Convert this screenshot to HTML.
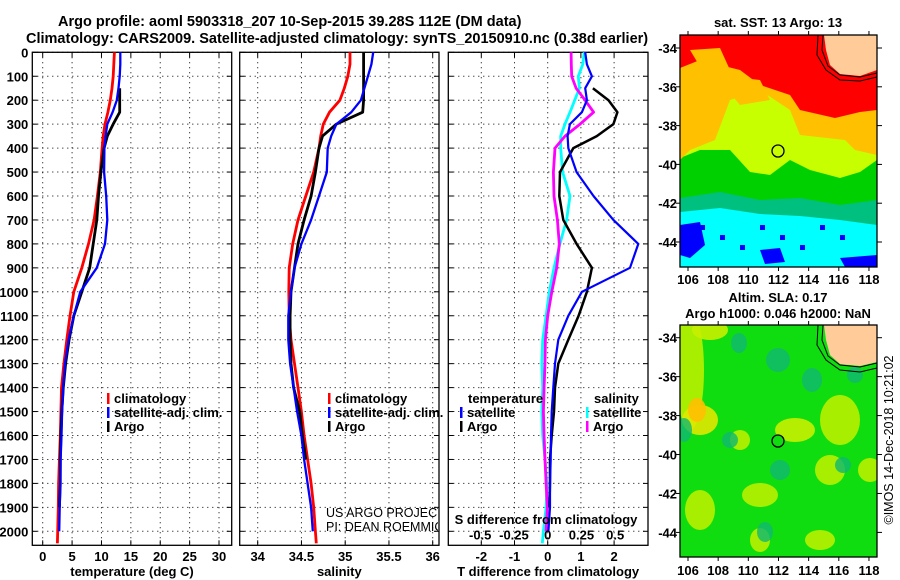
<!DOCTYPE html>
<html><head><meta charset="utf-8"><style>
html,body{margin:0;padding:0;background:#fff;}
svg{display:block;font-family:"Liberation Sans",Arial,sans-serif;}
.t{font-weight:bold;font-size:13px;fill:#000;}
.ttl{font-weight:bold;font-size:14.5px;fill:#000;}
</style></head><body>
<svg id="c" width="900" height="580" viewBox="0 0 900 580" xmlns="http://www.w3.org/2000/svg">
<text class="ttl" x="58" y="26">Argo profile: aoml 5903318_207 10-Sep-2015 39.28S 112E (DM data)</text>
<text class="ttl" x="26" y="43">Climatology: CARS2009. Satellite-adjusted climatology: synTS_20150910.nc (0.38d earlier)</text>
<g id="p1"></g>
<g id="p2"></g>
<g id="p3"></g>
<g id="m1"></g>
<g id="m2"></g>
</svg>
<script>
const depths=[0,50,100,150,200,250,300,350,400,500,600,700,800,900,1000,1100,1200,1300,1400,1500,1600,1700,1800,1900,2000,2050];
const tempClim=[12.2,12.1,12.0,11.8,11.5,11.1,10.6,10.3,10.1,9.8,9.3,8.75,7.8,6.65,5.3,4.65,4.1,3.6,3.2,3.1,3.0,2.85,2.7,2.65,2.55,2.5];
const tempSat=[13.2,13.2,13.1,12.9,12.6,11.9,11.0,10.7,10.5,10.45,10.8,11.0,10.6,9.2,6.4,5.3,4.4,3.8,3.5,3.3,3.2,3.05,3.0,2.9,2.8,null];
const tempArgo=[null,null,null,13.1,13.1,13.1,12.0,11.0,10.45,9.9,9.5,9.2,8.6,8.0,6.65,5.3,4.5,3.9,3.5,3.25,3.1,3.0,3.0,2.85,null,null];
const salClim=[35.055,35.055,35.03,34.99,34.94,34.82,34.75,34.72,34.70,34.64,34.55,34.46,34.40,34.36,34.355,34.36,34.38,34.42,34.46,34.50,34.53,34.57,34.61,34.64,34.66,34.67];
const salSat=[35.32,35.30,35.26,35.22,35.18,35.07,34.90,34.84,34.80,34.79,34.70,34.61,34.50,34.42,34.38,34.35,34.35,34.37,34.41,34.45,34.50,34.53,34.57,34.61,34.63,null];
const salArgo=[35.21,35.21,35.21,35.21,35.21,35.2,34.90,34.74,34.70,34.66,34.61,34.53,34.46,34.42,34.38,34.37,34.37,34.38,34.41,34.48,34.51,34.55,null,null,null,null];
const dTSat=[1.13,1.18,1.33,1.13,1.18,1.03,0.67,0.6,0.62,0.87,1.38,1.98,2.73,2.48,1.03,0.62,0.32,0.22,0.17,0.12,0.10,0.09,0.07,0.07,0.02,null];
const dTArgo=[null,null,null,1.36,1.83,2.1,1.98,1.48,0.77,0.37,0.35,0.47,0.87,1.33,1.18,0.93,0.62,0.32,0.22,0.19,0.12,0.07,0.07,0.05,null,null];
const dSArgo=[0.173,0.175,0.178,0.21,0.277,0.34,0.24,0.128,0.054,0.042,0.047,0.072,0.086,0.067,0.03,0,-0.017,-0.02,-0.027,-0.032,-0.027,-0.02,-0.012,-0.002,-0.012,null];
const dSSat=[0.27,0.26,0.227,0.235,0.2,0.165,0.128,0.096,0.096,0.11,0.165,0.14,0.09,0.047,0.012,-0.012,-0.037,-0.044,-0.037,-0.044,-0.037,-0.02,-0.007,-0.012,-0.032,-0.04];
const depthTicks=[0,100,200,300,400,500,600,700,800,900,1000,1100,1200,1300,1400,1500,1600,1700,1800,1900,2000];
const tempTicks=[0,5,10,15,20,25,30];
const salTicks=[34,34.5,35,35.5,36];
const dTTicks=[-2,-1,0,1,2];
const dSTicks=[-0.5,-0.25,0,0.25,0.5];
const latTicks=[-34,-36,-38,-40,-42,-44];
const lonTicks=[106,108,110,112,114,116,118];

const NS="http://www.w3.org/2000/svg";
function mk(tag,parent,attrs){const e=document.createElementNS(NS,tag);for(const k in attrs)e.setAttribute(k,attrs[k]);parent.appendChild(e);return e;}
const TOP=52.3,BOT=545.3;
const yD=d=>52.3+d*0.2395;

function frame(g,x0,x1,xs,ticks,labels,xlabel,leftLabels){
  mk('rect',g,{x:x0,y:TOP,width:x1-x0,height:BOT-TOP,fill:'#fff',stroke:'#000','stroke-width':1.3});
  depthTicks.forEach(d=>{
    const y=yD(d);
    const l=mk('line',g,{x1:x0,x2:x1,y1:y,y2:y,stroke:'#000','stroke-width':1,'stroke-dasharray':'1 4'});
    
    
    mk('line',g,{x1:x0,x2:x0+5,y1:y,y2:y,stroke:'#000'});
    mk('line',g,{x1:x1-5,x2:x1,y1:y,y2:y,stroke:'#000'});
    if(leftLabels){const t=mk('text',g,{x:x0-4,y:y+5,class:'t','text-anchor':'end'});t.textContent=d;
      
      }
  });
  ticks.forEach((v,i)=>{
    const x=xs(v);
    mk('line',g,{x1:x,x2:x,y1:TOP,y2:BOT,stroke:'#000','stroke-width':1,'stroke-dasharray':'1 4'});
    mk('line',g,{x1:x,x2:x,y1:TOP,y2:TOP+5,stroke:'#000'});
    mk('line',g,{x1:x,x2:x,y1:BOT-5,y2:BOT,stroke:'#000'});
    if(labels){const t=mk('text',g,{x:x,y:561,class:'t','text-anchor':'middle'});t.textContent=labels[i];
      
      }
  });
  const t=mk('text',g,{x:(x0+x1)/2,y:576,class:'t','text-anchor':'middle'});t.textContent=xlabel;
  
  
}
function line(g,xs,vals,color,w,name){
  let pts=[],segs=[];
  vals.forEach((v,i)=>{if(v===null){if(pts.length)segs.push(pts);pts=[];}else pts.push(xs(v).toFixed(1)+','+yD(depths[i]).toFixed(1));});
  if(pts.length)segs.push(pts);
  segs.forEach(s=>{const p=mk('polyline',g,{points:s.join(' '),fill:'none',stroke:color,'stroke-width':w,'stroke-linejoin':'round'});
    
    });
}
function legend(g,x,y,items){
  items.forEach((it,i)=>{
    mk('rect',g,{x:x,y:y+i*14-10,width:2.5,height:11,fill:it[0]});
    const t=mk('text',g,{x:x+7,y:y+i*14,class:'t'});t.textContent=it[1];
    
    
  });
}
// Panel 1
const g1=document.getElementById('p1');
const xT=v=>42.7+v*5.877;
frame(g1,32.3,231.7,xT,tempTicks,tempTicks,'temperature (deg C)',true);
line(g1,xT,tempClim,'#ff0000',2.8,'temp-climatology-line');
line(g1,xT,tempArgo,'#000',2.8,'temp-argo-line');
line(g1,xT,tempSat,'#0000ff',2.3,'temp-satellite-line');
legend(g1,107,403,[['#f00','climatology'],['#00f','satellite-adj. clim.'],['#000','Argo']]);
// Panel 2
const g2=document.getElementById('p2');
const xS=v=>257.7+(v-34)*87.5;
frame(g2,239.7,439,xS,salTicks,['34','34.5','35','35.5','36'],'salinity',false);
line(g2,xS,salClim,'#ff0000',2.8,'sal-climatology-line');
line(g2,xS,salArgo,'#000',2.8,'sal-argo-line');
line(g2,xS,salSat,'#0000ff',2.3,'sal-satellite-line');
legend(g2,328,403,[['#f00','climatology'],['#00f','satellite-adj. clim.'],['#000','Argo']]);
mk('clipPath',g2,{id:'cp2'});
mk('rect',document.getElementById('cp2'),{x:239,y:52,width:199,height:493});
const cr=mk('g',g2,{'clip-path':'url(#cp2)'});
[['US ARGO PROJECT',517],['PI: DEAN ROEMMICH',531]].forEach(a=>{const t=mk('text',cr,{x:326,y:a[1],'font-size':12.5,fill:'#000'});t.textContent=a[0];
  
  });
// Panel 3
const g3=document.getElementById('p3');
const xdT=v=>547.7+v*33.2;
const xdS=v=>547.7+v*135;
frame(g3,448.3,648,xdT,dTTicks,dTTicks,'T difference from climatology',false);
line(g3,xdS,dSSat,'#00ffff',2.8,'sal-diff-satellite-line');
line(g3,xdS,dSArgo,'#ff00ff',2.8,'sal-diff-argo-line');
line(g3,xdT,dTArgo,'#000',2.5,'temp-diff-argo-line');
line(g3,xdT,dTSat,'#0000ff',2.2,'temp-diff-satellite-line');
{const t=mk('text',g3,{x:468,y:403,class:'t'});t.textContent='temperature';
 
 const t2=mk('text',g3,{x:594,y:403,class:'t'});t2.textContent='salinity';
 }
legend(g3,460,417,[['#00f','satellite'],['#000','Argo']]);
legend(g3,586,417,[['#0ff','satellite'],['#f0f','Argo']]);
{const t=mk('text',g3,{x:546,y:524,class:'t','text-anchor':'middle'});t.textContent='S difference from climatology';
 }
dSTicks.forEach(v=>{const t=mk('text',g3,{x:xdS(v),y:539.5,class:'t','text-anchor':'middle'});t.textContent=String(v);
 });

// Maps
function mapFrame(g,y0,y1,latY,title,titleYs){
  const x0=680,x1=877;
  titleYs.forEach((ty,i)=>{const t=mk('text',g,{x:778,y:ty,class:'t','text-anchor':'middle'});t.textContent=title[i];
    });
  return {x0,x1,y0,y1,lonX:v=>688+(v-106)*15.08,latY};
}
function finishMap(g,m,labelsBelowY){
  mk('rect',g,{x:m.x0,y:m.y0,width:m.x1-m.x0,height:m.y1-m.y0,fill:'none',stroke:'#000','stroke-width':1.3});
  latTicks.forEach(v=>{const y=m.latY(v);
    mk('line',g,{x1:m.x1,x2:m.x1+5,y1:y,y2:y,stroke:'#000'});
    mk('line',g,{x1:m.x0-4,x2:m.x0,y1:y,y2:y,stroke:'#000'});
    const t=mk('text',g,{x:m.x0-3,y:y+5,class:'t','text-anchor':'end'});t.textContent=v;
    });
  lonTicks.forEach(v=>{const x=m.lonX(v);
    mk('line',g,{x1:x,x2:x,y1:m.y0-4,y2:m.y0,stroke:'#000'});
    mk('line',g,{x1:x,x2:x,y1:m.y1,y2:m.y1+4,stroke:'#000'});
    const t=mk('text',g,{x:x,y:labelsBelowY,class:'t','text-anchor':'middle'});t.textContent=v;
    });
}
function poly(g,pts,fill){mk('polygon',g,{points:pts,fill:fill});}
// map 1
const g4=document.getElementById('m1');
const m1=mapFrame(g4,35,267,v=>48+(-34-v)*19.4,['sat. SST: 13 Argo: 13'],[27]);
mk('clipPath',g4,{id:'cpm1'});mk('rect',document.getElementById('cpm1'),{x:680,y:35,width:197,height:232});
const c1=mk('g',g4,{'clip-path':'url(#cpm1)'});
mk('rect',c1,{x:680,y:35,width:197,height:232,fill:'#00ffff'});
poly(c1,'680,35 877,35 877,225 840,220 800,216 760,214 720,208 680,212','#00c080');
poly(c1,'680,35 877,35 877,200 840,205 800,198 760,200 720,192 680,198','#00d000');
poly(c1,'680,35 877,35 877,160 860,172 840,178 810,170 790,160 770,175 750,172 730,150 700,150 680,158','#c8ff00');
poly(c1,'680,35 877,35 877,155 855,150 845,140 800,135 790,110 760,90 730,100 715,140 690,150 680,160','#ffc000');
poly(c1,'680,35 877,35 877,110 860,112 835,118 800,110 790,95 760,85 740,70 700,60 680,68','#ff0000');
poly(c1,'690,50 720,48 730,70 705,75','#ffc000');
poly(c1,'715,75 760,80 770,100 740,105','#ffc000');
poly(c1,'680,225 700,222 705,245 690,258 680,255','#0000ff');
poly(c1,'760,250 780,248 785,262 765,264','#0000ff');
poly(c1,'840,258 877,255 877,267 845,267','#0000ff');
for(let i=0;i<8;i++){mk('rect',c1,{x:700+i*20,y:225+(i%3)*10,width:5,height:5,fill:'#0000ff'});}
poly(c1,'824,35 877,35 877,70 860,76 840,74 830,65 826,50','#ffcc99');
mk('polyline',c1,{points:'823,35 822,50 828,66 840,75 860,77 877,73',fill:'none',stroke:'#000'});
mk('polyline',c1,{points:'818,35 817,55 826,70 840,80 860,81 877,77',fill:'none',stroke:'#000'});
mk('circle',g4,{cx:778,cy:151,r:6,fill:'none',stroke:'#000','stroke-width':1.3});
finishMap(g4,m1,284);
// map 2
const g5=document.getElementById('m2');
const m2=mapFrame(g5,325,557,v=>337.7+(-34-v)*19.47,['Altim. SLA: 0.17','Argo h1000: 0.046 h2000: NaN'],[302,318]);
mk('clipPath',g5,{id:'cpm2'});mk('rect',document.getElementById('cpm2'),{x:680,y:325,width:197,height:232});
const c2=mk('g',g5,{'clip-path':'url(#cpm2)'});
mk('rect',c2,{x:680,y:325,width:197,height:232,fill:'#10dd10'});
[[690,370,14,60,'#b8f000'],[700,420,18,15,'#e0e800'],[697,410,9,12,'#ffc000'],[795,430,20,12,'#c8f000'],[840,420,20,25,'#b8f000'],[710,330,18,10,'#c8f000'],[850,355,15,10,'#b8f000'],[760,495,18,12,'#b8f000'],[740,440,10,10,'#b8f000'],[830,470,15,15,'#b8f000'],[870,470,12,12,'#b8f000'],[700,510,15,20,'#b8f000'],[820,540,15,10,'#b8f000'],[760,540,10,12,'#b8f000']].forEach(e=>{
  mk('ellipse',c2,{cx:e[0],cy:e[1],rx:e[2],ry:e[3],fill:e[4],opacity:0.9});});
[[739,343,8,10],[778,360,12,12],[812,380,10,12],[855,375,8,8],[684,430,8,12],[780,470,10,10],[843,465,8,8],[765,532,8,10],[730,440,8,8]].forEach(e=>{
  mk('ellipse',c2,{cx:e[0],cy:e[1],rx:e[2],ry:e[3],fill:'#10b870',opacity:0.8});});
poly(c2,'824,325 877,325 877,362 860,366 840,364 830,355 826,340','#ffcc99');
mk('polyline',c2,{points:'823,325 822,340 828,356 840,365 860,367 877,363',fill:'none',stroke:'#000'});
mk('polyline',c2,{points:'818,325 817,345 826,360 840,370 860,372 877,368',fill:'none',stroke:'#000'});
mk('circle',g5,{cx:778,cy:441,r:6,fill:'#10dd10',stroke:'#000','stroke-width':1.3});
finishMap(g5,m2,575);
{const t=mk('text',g5,{x:0,y:0,'font-size':12.5,fill:'#000',transform:'translate(893,440) rotate(-90)','text-anchor':'middle'});
 t.textContent='©IMOS 14-Dec-2018 10:21:02';
 }
</script>
</body></html>
